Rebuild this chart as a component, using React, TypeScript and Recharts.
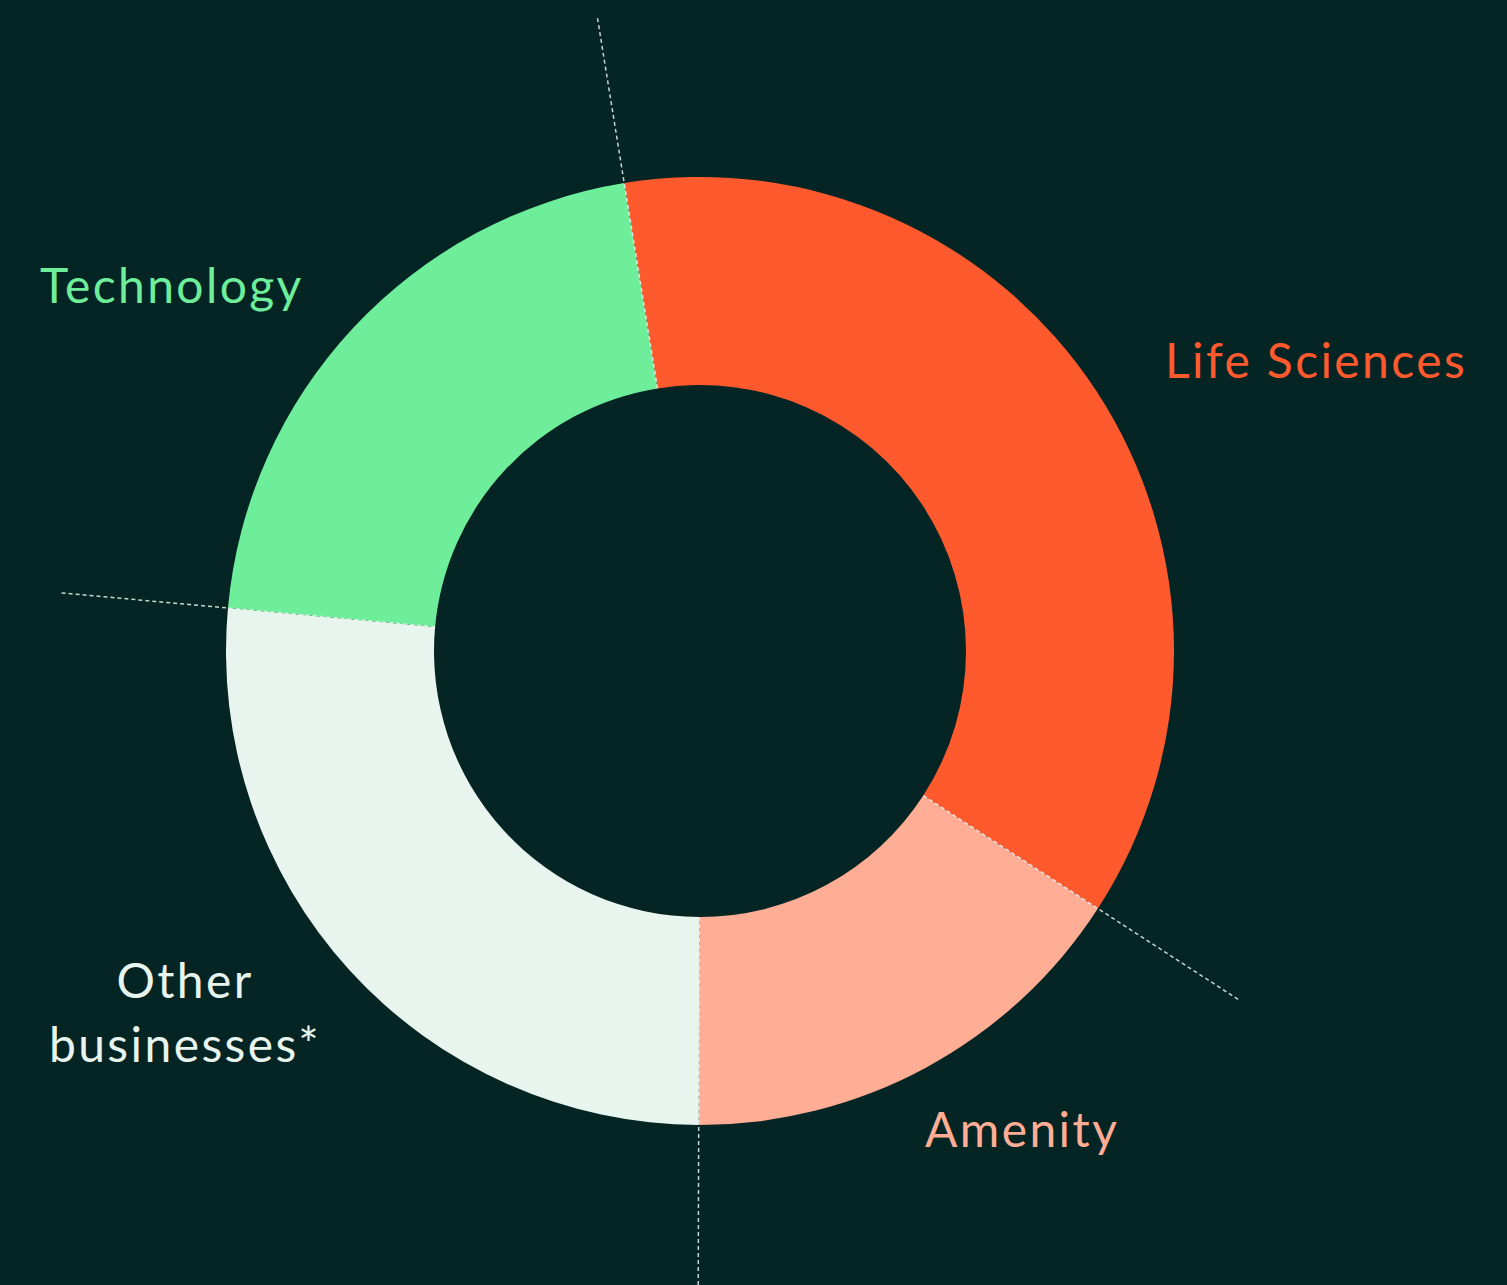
import React from "react";
import { PieChart, Pie, Cell, Sector } from "recharts";

const categories = ["Life Sciences", "Amenity", "Other businesses*", "Technology"];
const shares = [36.7, 15.9, 26.4, 21.0];
const colors = ["#FF5A2E", "#FFAD94", "#E8F4EE", "#6EEE9B"];

const data = categories.map((name, i) => ({ name, value: shares[i] }));

const BG = "#052424";
const CX = 700;
const CY = 651;
const INNER = 266;
const OUTER = 474;
const DASH_R = 642;

// label anchor layout (pixel positions of label text)
const LABEL_LAYOUT: Record<string, { x: number; y: number; anchor: string; lines: string[] }> = {
  "Life Sciences": { x: 1165, y: 359, anchor: "start", lines: ["Life Sciences"] },
  "Amenity": { x: 925, y: 1128, anchor: "start", lines: ["Amenity"] },
  "Other businesses*": { x: 185, y: 979, anchor: "middle", lines: ["Other", "businesses*"] },
  "Technology": { x: 40, y: 284, anchor: "start", lines: ["Technology"] },
};

const RAD = Math.PI / 180;

const PlainSector = (props: any) => {
  const { cx, cy, innerRadius, outerRadius, startAngle, endAngle, fill } = props;
  return (
    <Sector
      cx={cx}
      cy={cy}
      innerRadius={innerRadius}
      outerRadius={outerRadius}
      startAngle={startAngle}
      endAngle={endAngle}
      fill={fill}
      stroke="none"
    />
  );
};

const DashShape = (props: any) => {
  const { cx, cy, startAngle, innerRadius } = props;
  const a = startAngle * RAD;
  const x1 = cx + innerRadius * Math.cos(a);
  const y1 = cy - innerRadius * Math.sin(a);
  const x2 = cx + DASH_R * Math.cos(a);
  const y2 = cy - DASH_R * Math.sin(a);
  return (
    <line
      x1={x1}
      y1={y1}
      x2={x2}
      y2={y2}
      stroke="#E8F4EE"
      strokeOpacity={0.85}
      strokeWidth={1.5}
      strokeDasharray="4 3"
    />
  );
};

const renderLabel = (props: any) => {
  const { name, index } = props;
  const l = LABEL_LAYOUT[name];
  if (!l) return null;
  return (
    <text
      key={`lbl-${index}`}
      x={l.x}
      y={l.y}
      textAnchor={l.anchor as any}
      dominantBaseline="central"
      fill={colors[index]}
      style={{ fontFamily: "Lato, 'Noto Sans', sans-serif", fontSize: 48, fontWeight: 400, letterSpacing: 2.4 }}
    >
      {l.lines.map((t, i) => (
        <tspan key={i} x={l.x} dy={i === 0 ? 0 : 64}>
          {t}
        </tspan>
      ))}
    </text>
  );
};

export default function App() {
  return (
    <div style={{ position: "absolute", left: 0, top: 0, width: 1507, height: 1285, background: BG, overflow: "hidden" }}>
      <PieChart width={1507} height={1285} margin={{ top: 0, right: 0, bottom: 0, left: 0 }}>
        <Pie
          data={data}
          dataKey="value"
          nameKey="name"
          cx={CX}
          cy={CY}
          innerRadius={INNER}
          outerRadius={OUTER}
          startAngle={99.2}
          endAngle={-260.8}
          paddingAngle={0}
          stroke="none"
          shape={PlainSector}
          label={renderLabel}
          labelLine={false}
          isAnimationActive={false}
        >
          {data.map((d, i) => (
            <Cell key={d.name} fill={colors[i]} />
          ))}
        </Pie>
        <Pie
          data={data}
          dataKey="value"
          nameKey="name"
          cx={CX}
          cy={CY}
          innerRadius={INNER}
          outerRadius={OUTER}
          startAngle={99.2}
          endAngle={-260.8}
          stroke="none"
          shape={DashShape}
          isAnimationActive={false}
        />
      </PieChart>
    </div>
  );
}
